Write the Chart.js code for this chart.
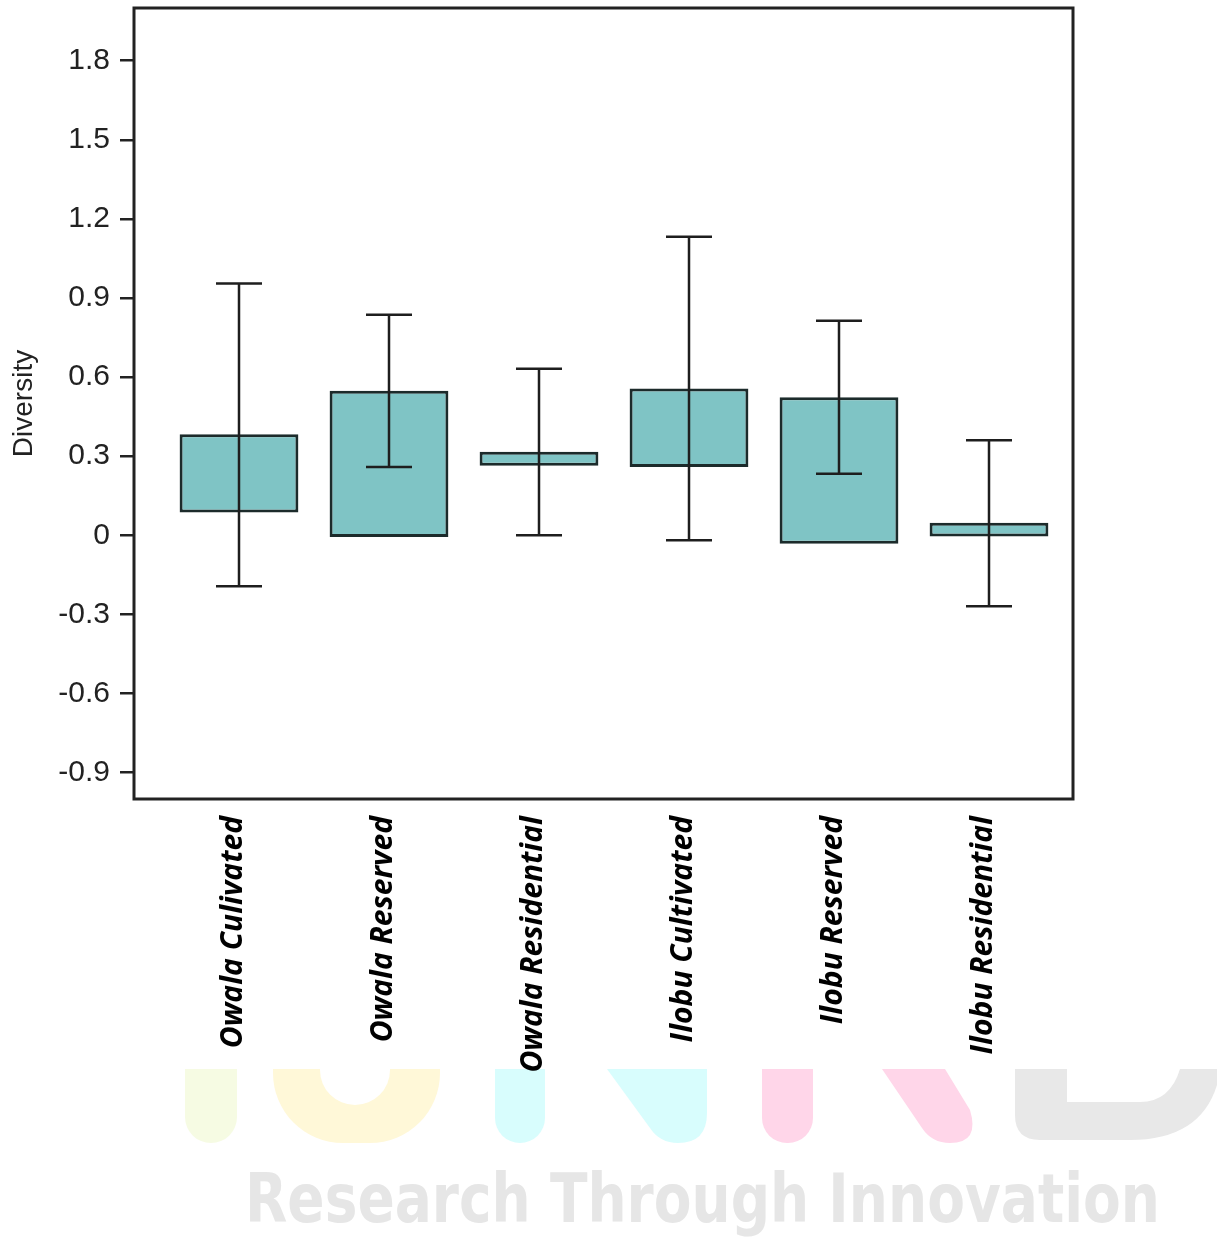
<!DOCTYPE html>
<html>
<head>
<meta charset="utf-8">
<script src="https://cdn.jsdelivr.net/npm/chart.js@4.4.1/dist/chart.umd.min.js"></script>
<style>
  html, body { margin: 0; padding: 0; background: #ffffff; }
  #wrap { width: 1217px; height: 1237px; position: relative; }
</style>
</head>
<body>
<div id="wrap"><canvas id="chart" width="1217" height="1237"></canvas></div>
<script>
// Land-use categories along the x axis
const categories = ['Owala Culivated', 'Owala Reserved', 'Owala Residential', 'Ilobu Cultivated', 'Ilobu Reserved', 'Ilobu Residential'];

// Box extents (lower / upper edge) for each category
const boxLow  = [0.087, -0.006, 0.264, 0.259, -0.032, -0.004];
const boxHigh = [0.383,  0.548, 0.317, 0.557,  0.524,  0.048];

// Whisker extents for each category
const whiskerLow  = [-0.193, 0.259, 0.000, -0.019, 0.234, -0.269];
const whiskerHigh = [ 0.955, 0.837, 0.632,  1.132, 0.814,  0.361];

// Y axis ticks
const yTickValues = [-0.9, -0.6, -0.3, 0, 0.3, 0.6, 0.9, 1.2, 1.5, 1.8];
const yTickLabels = ['-0.9', '-0.6', '-0.3', '0', '0.3', '0.6', '0.9', '1.2', '1.5', '1.8'];

const INK = '#222222';

// Page banner behind the plot
const bannerPlugin = {
  id: 'banner',
  beforeDraw(chart) {
    const ctx = chart.ctx;
    ctx.save();
    ctx.fillStyle = '#ffffff';
    ctx.fillRect(0, 0, chart.width, chart.height);

    const rr = (x, y, w, h, r, color) => {
      ctx.beginPath();
      ctx.roundRect(x, y, w, h, r);
      ctx.fillStyle = color;
      ctx.fill();
    };
    // I
    rr(185, 1069, 52, 74, [0, 0, 26, 26], '#f6fbe3');
    // J bowl
    rr(273, 1069, 167, 74, [0, 0, 70, 70], '#fff8d8');
    rr(320, 1060, 70, 45, [0, 0, 35, 35], '#ffffff');
    // N
    rr(495, 1069, 50, 74, [0, 0, 25, 25], '#d8fdfd');
    ctx.beginPath();
    ctx.moveTo(607, 1069);
    ctx.lineTo(707, 1069);
    ctx.lineTo(707, 1113);
    ctx.quadraticCurveTo(707, 1143, 678, 1143);
    ctx.quadraticCurveTo(660, 1143, 650, 1128);
    ctx.closePath();
    ctx.fillStyle = '#d8fdfd';
    ctx.fill();
    // R
    rr(762, 1069, 51, 74, [0, 0, 25, 25], '#ffd6e9');
    ctx.beginPath();
    ctx.moveTo(882, 1069);
    ctx.lineTo(945, 1069);
    ctx.lineTo(970, 1110);
    ctx.quadraticCurveTo(980, 1143, 950, 1143);
    ctx.quadraticCurveTo(932, 1143, 922, 1128);
    ctx.closePath();
    ctx.fillStyle = '#ffd6e9';
    ctx.fill();
    // D
    ctx.beginPath();
    ctx.moveTo(1015, 1069);
    ctx.lineTo(1217, 1069);
    ctx.lineTo(1217, 1085);
    ctx.quadraticCurveTo(1200, 1140, 1130, 1140);
    ctx.lineTo(1040, 1140);
    ctx.quadraticCurveTo(1015, 1140, 1015, 1115);
    ctx.closePath();
    ctx.fillStyle = '#e8e8e8';
    ctx.fill();
    ctx.beginPath();
    ctx.moveTo(1067, 1069);
    ctx.lineTo(1180, 1069);
    ctx.quadraticCurveTo(1170, 1102, 1140, 1102);
    ctx.lineTo(1067, 1102);
    ctx.closePath();
    ctx.fillStyle = '#ffffff';
    ctx.fill();

    ctx.font = 'bold 68px "DejaVu Sans"';
    ctx.fillStyle = '#e6e6e6';
    ctx.textBaseline = 'alphabetic';
    ctx.textAlign = 'left';
    ctx.fillText('Research Through Innovation', 245, 1222, 915);
    ctx.restore();
  }
};

// Whiskers with caps, plus the frame around the plot area
const whiskerPlugin = {
  id: 'whiskers',
  afterDatasetsDraw(chart) {
    const ctx = chart.ctx;
    const xs = chart.scales.x, ys = chart.scales.y;
    const cap = 23;
    ctx.save();
    ctx.strokeStyle = '#1e1e1e';
    ctx.lineWidth = 2.5;
    categories.forEach((_, i) => {
      const x = xs.getPixelForValue(i);
      const yl = ys.getPixelForValue(whiskerLow[i]);
      const yh = ys.getPixelForValue(whiskerHigh[i]);
      ctx.beginPath();
      ctx.moveTo(x, yl); ctx.lineTo(x, yh);
      ctx.moveTo(x - cap, yl); ctx.lineTo(x + cap, yl);
      ctx.moveTo(x - cap, yh); ctx.lineTo(x + cap, yh);
      ctx.stroke();
    });
    const a = chart.chartArea;
    ctx.strokeStyle = INK;
    ctx.lineWidth = 3;
    ctx.strokeRect(a.left, a.top, a.right - a.left, a.bottom - a.top);
    ctx.restore();
  }
};

new Chart(document.getElementById('chart'), {
  type: 'bar',
  data: {
    datasets: [{
      label: 'Diversity',
      data: categories.map((_, i) => ({ x: i, y: [boxLow[i], boxHigh[i]] })),
      backgroundColor: '#7fc4c5',
      borderColor: '#1c2b2b',
      borderWidth: 3,
      borderSkipped: false,
      barPercentage: 0.99,
      categoryPercentage: 0.8
    }]
  },
  options: {
    responsive: false,
    animation: false,
    devicePixelRatio: 1,
    layout: { padding: { top: 8, right: 144, left: 0, bottom: 0 } },
    plugins: {
      legend: { display: false },
      tooltip: { enabled: false }
    },
    scales: {
      x: {
        type: 'linear',
        offset: false,
        min: -0.7,
        max: 5.56,
        afterBuildTicks(scale) { scale.ticks = categories.map((_, i) => ({ value: i })); },
        afterFit(scale) {
          scale.height = 1237 - 799;
          scale.paddingLeft = 0;
          scale.paddingRight = 0;
        },
        grid: { display: false },
        border: { display: false },
        ticks: {
          autoSkip: false,
          minRotation: 90,
          maxRotation: 90,
          padding: 9,
          labelOffset: -6,
          color: '#000000',
          font: { family: '"Open Sans"', size: 30, style: 'italic', weight: 'bold' },
          callback: (v) => categories[v]
        }
      },
      y: {
        min: -1.0,
        max: 2.0,
        afterBuildTicks(scale) { scale.ticks = yTickValues.map(v => ({ value: v })); },
        afterFit(scale) {
          scale.width = 134;
          scale.paddingTop = 0;
          scale.paddingBottom = 0;
        },
        grid: {
          drawOnChartArea: false,
          drawTicks: true,
          tickLength: 14,
          color: INK,
          lineWidth: 2.5
        },
        border: { display: false },
        ticks: {
          padding: 10,
          color: INK,
          font: { family: '"Liberation Sans"', size: 30 },
          callback: (v, i) => yTickLabels[i]
        },
        title: {
          display: true,
          text: 'Diversity',
          color: INK,
          padding: { top: 7, bottom: 0 },
          font: { family: '"Liberation Sans"', size: 28 }
        }
      }
    }
  },
  plugins: [bannerPlugin, whiskerPlugin]
});
</script>
</body>
</html>
